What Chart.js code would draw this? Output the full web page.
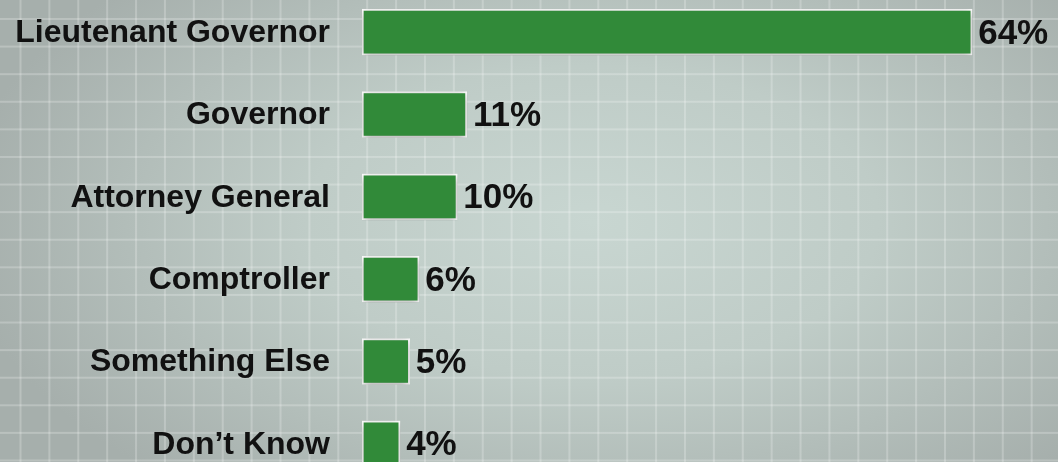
<!DOCTYPE html>
<html>
<head>
<meta charset="utf-8">
<script src="https://cdn.jsdelivr.net/npm/chart.js@4"></script>
<style>
  html, body { margin: 0; padding: 0; }
  body {
    width: 1058px; height: 462px; overflow: hidden; position: relative;
    background-color: #aab4b0;
    background-image:
      linear-gradient(90deg, rgba(255,255,255,0.22) 2px, transparent 2px),
      linear-gradient(180deg, rgba(255,255,255,0.22) 2px, transparent 2px),
      radial-gradient(ellipse 60% 75% at 56% 48%, #c8d6d1 0%, #bfccc7 45%, #a6afac 100%);
    background-size: 28.9px 100%, 100% 27.6px, 100% 100%;
    background-position: 19.5px 0, 0 18px, 0 0;
  }
  #wrap { position: absolute; left: 0; top: -9px; width: 1058px; height: 494px; }
</style>
</head>
<body>
<div id="wrap"><canvas id="graphics"></canvas></div>
<script>
const categories = ['Lieutenant Governor', 'Governor', 'Attorney General', 'Comptroller', 'Something Else', 'Don\u2019t Know'];
const values = [64, 11, 10, 6, 5, 4];

// soft shadow under the bars
const barShadow = {
    id: 'barShadow',
    beforeDatasetsDraw(chart) {
        const c = chart.ctx;
        c.save();
        c.shadowColor = 'rgba(0,0,0,0.35)';
        c.shadowBlur = 8;
        c.shadowOffsetY = 2;
    },
    afterDatasetsDraw(chart) {
        chart.ctx.restore();
    }
};

// category names on the left + percent labels at bar ends
const textLabels = {
    id: 'textLabels',
    afterDraw(chart) {
        const c = chart.ctx;
        const y = chart.scales.y;
        const meta = chart.getDatasetMeta(0);
        c.save();
        c.fillStyle = '#111';
        c.textBaseline = 'middle';
        c.font = 'bold 32px "Liberation Sans", Arial, sans-serif';
        c.textAlign = 'right';
        categories.forEach((name, i) => {
            c.fillText(name, chart.chartArea.left - 32, y.getPixelForValue(i) + 1);
        });
        c.font = 'bold 35px "Liberation Sans", Arial, sans-serif';
        c.textAlign = 'left';
        meta.data.forEach((bar, i) => {
            c.fillText(values[i] + '%', bar.x + 6, bar.y + 2);
        });
        c.restore();
    }
};

var ctx = document.getElementById('graphics').getContext('2d');
var myChart = new Chart(ctx, {
    type: 'bar',
    data: {
        labels: categories,
        datasets: [{
            data: values,
            backgroundColor: '#318a39',
            borderColor: '#ffffff',
            borderWidth: 2,
            borderSkipped: false,
            barThickness: 46
        }]
    },
    options: {
        indexAxis: 'y',
        responsive: true,
        maintainAspectRatio: false,
        animation: false,
        layout: { padding: { left: 362, right: 0, top: 0, bottom: 0 } },
        plugins: {
            legend: { display: false },
            tooltip: { enabled: false }
        },
        scales: {
            x: { display: false, min: 0, max: 73 },
            y: { display: false }
        }
    },
    plugins: [barShadow, textLabels]
});
</script>
</body>
</html>
